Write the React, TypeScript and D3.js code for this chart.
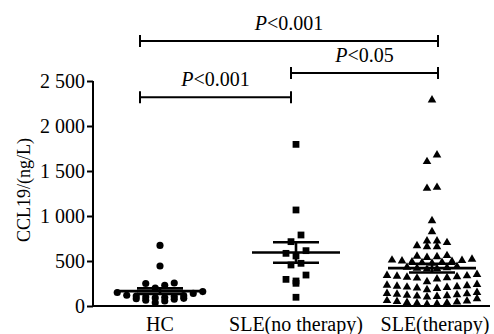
import React, { useRef, useEffect } from 'react';
import * as d3 from 'd3';

// groups on the x axis
const categories = ['HC', 'SLE(no therapy)', 'SLE(therapy)'];

// CCL19 (ng/L) per subject
const hcValues = [673, 444, 256, 250, 230, 200, 160, 150, 140, 120, 115, 110, 105, 100, 95, 90, 85, 80, 75, 65, 55, 37];
const noTherapyValues = [1796, 1067, 789, 715, 615, 585, 556, 474, 456, 344, 296, 278, 252, 97];
const therapyValues = [
  2289, 1678, 1604, 1318, 1307, 948, 826, 722, 722, 704, 670, 659, 659,
  560, 552, 548, 540,
  520, 510, 505, 500, 495, 490, 485, 480, 475,
  440, 430, 425, 420, 415, 410,
  350, 340, 335, 330, 325, 320, 315, 310, 300, 270,
  240, 230, 225, 220, 215, 210, 205, 200, 195, 180,
  150, 140, 135, 130, 125, 120, 115, 110, 105, 100,
  80, 60, 55, 50, 45, 40, 35, 30, 25, 20,
];

const yTicks = [0, 500, 1000, 1500, 2000, 2500];

// significance brackets
const compFrom = ['HC', 'SLE(no therapy)', 'HC'];
const compTo = ['SLE(no therapy)', 'SLE(therapy)', 'SLE(therapy)'];
const compLevel = [2320, 2590, 2945];
const compLabel = ['0.001', '0.05', '0.001'];

const W = 494;
const H = 334;
const FONT = '"Liberation Serif", "Times New Roman", Times, serif';

// GraphPad-like scatter: points falling in the same pixel row sit side by side
function rows(values: number[], cx: number, y: (v: number) => number, rowH: number, spacing: number) {
  const base = y(0);
  const bins = d3.group(values.slice().sort((a, b) => a - b), v => Math.floor((base - y(v)) / rowH));
  const out: { x: number; y: number }[] = [];
  bins.forEach(vs => {
    const n = vs.length;
    // fill from the middle outwards
    const slots = d3.range(n).map(i => (i - (n - 1) / 2) * spacing)
      .sort((a, b) => Math.abs(a) - Math.abs(b) || a - b);
    vs.forEach((v, i) => out.push({ x: cx + slots[i], y: y(v) }));
  });
  return out;
}

export default function App() {
  const ref = useRef<SVGSVGElement>(null);

  useEffect(() => {
    const svg = d3.select(ref.current);
    svg.selectAll('*').remove();

    const x = d3.scalePoint<string>().domain(categories).range([160, 432]);
    const y = d3.scaleLinear().domain([0, 2500]).range([306, 81]);
    const axisX = 93;

    // y axis
    const yAxis = svg.append('g')
      .attr('transform', `translate(${axisX},0)`)
      .call(d3.axisLeft(y).tickValues(yTicks).tickSize(6).tickPadding(2)
        .tickFormat(d => d3.format(',')(d as number).replace(',', ' ')));
    yAxis.select('.domain').attr('stroke', '#000').attr('stroke-width', 2).attr('d', `M0,${y(2500)}V${y(0)}`);
    yAxis.selectAll('.tick line').attr('stroke', '#000').attr('stroke-width', 2);
    yAxis.selectAll('.tick text')
      .style('font-family', FONT).style('font-size', '20px').attr('fill', '#000');

    // x axis line
    svg.append('line')
      .attr('x1', axisX - 1).attr('x2', 490)
      .attr('y1', y(0)).attr('y2', y(0))
      .attr('stroke', '#000').attr('stroke-width', 2);

    categories.forEach(c => {
      svg.append('text')
        .attr('x', x(c)! + (c === 'SLE(therapy)' ? 3 : 0)).attr('y', 331)
        .attr('text-anchor', 'middle')
        .style('font-family', FONT).style('font-size', '20px')
        .text(c);
    });

    svg.append('text')
      .attr('transform', `translate(24,190) rotate(-90)`)
      .attr('text-anchor', 'middle')
      .attr('dominant-baseline', 'central')
      .style('font-family', FONT).style('font-size', '18px')
      .text('CCL19/(ng/L)');

    const groups = [
      { cat: 'HC', values: hcValues, shape: d3.symbolCircle, size: 40, spacing: 9.5 },
      { cat: 'SLE(no therapy)', values: noTherapyValues, shape: d3.symbolSquare, size: 46, spacing: 10 },
      { cat: 'SLE(therapy)', values: therapyValues, shape: d3.symbolTriangle, size: 32, spacing: 10 },
    ];

    groups.forEach(g => {
      const cx = x(g.cat)!;
      const pts = rows(g.values, cx, y, 8, g.spacing);
      const sym = d3.symbol().type(g.shape).size(g.size);
      svg.append('g').selectAll('path').data(pts).join('path')
        .attr('d', sym)
        .attr('transform', d => `translate(${d.x},${d.y})`)
        .attr('fill', '#000');

      // mean and SEM
      const m = d3.mean(g.values)!;
      const sem = d3.deviation(g.values)! / Math.sqrt(g.values.length);
      const line = (x1: number, x2: number, y1: number, y2: number) =>
        svg.append('line').attr('x1', x1).attr('x2', x2).attr('y1', y1).attr('y2', y2)
          .attr('stroke', '#000').attr('stroke-width', 2.6);
      line(cx - 44, cx + 44, y(m), y(m));
      line(cx - 23, cx + 23, y(m + sem), y(m + sem));
      line(cx - 23, cx + 23, y(m - sem), y(m - sem));
      line(cx, cx, y(m + sem), y(m - sem));
    });

    // brackets: ends nudged a little off each group's centre
    const nudge: Record<string, number> = { 'HC': -20, 'SLE(no therapy)': -5, 'SLE(therapy)': 6 };
    compFrom.forEach((f, i) => {
      const x1 = x(f)! + nudge[f];
      const x2 = x(compTo[i])! + nudge[compTo[i]];
      const ly = y(compLevel[i]);
      const b = svg.append('g').attr('stroke', '#000').attr('stroke-width', 2);
      b.append('line').attr('x1', x1).attr('x2', x2).attr('y1', ly).attr('y2', ly);
      b.append('line').attr('x1', x1).attr('x2', x1).attr('y1', ly - 6).attr('y2', ly + 6);
      b.append('line').attr('x1', x2).attr('x2', x2).attr('y1', ly - 6).attr('y2', ly + 6);
      const t = svg.append('text')
        .attr('x', (x1 + x2) / 2).attr('y', ly - 11)
        .attr('text-anchor', 'middle')
        .style('font-family', FONT).style('font-size', '20px');
      t.append('tspan').style('font-style', 'italic').text('P');
      t.append('tspan').text('<' + compLabel[i]);
    });
  }, []);

  return (
    <svg ref={ref} width={W} height={H}
      style={{ position: 'absolute', left: 0, top: 0, background: '#fff' }} />
  );
}
